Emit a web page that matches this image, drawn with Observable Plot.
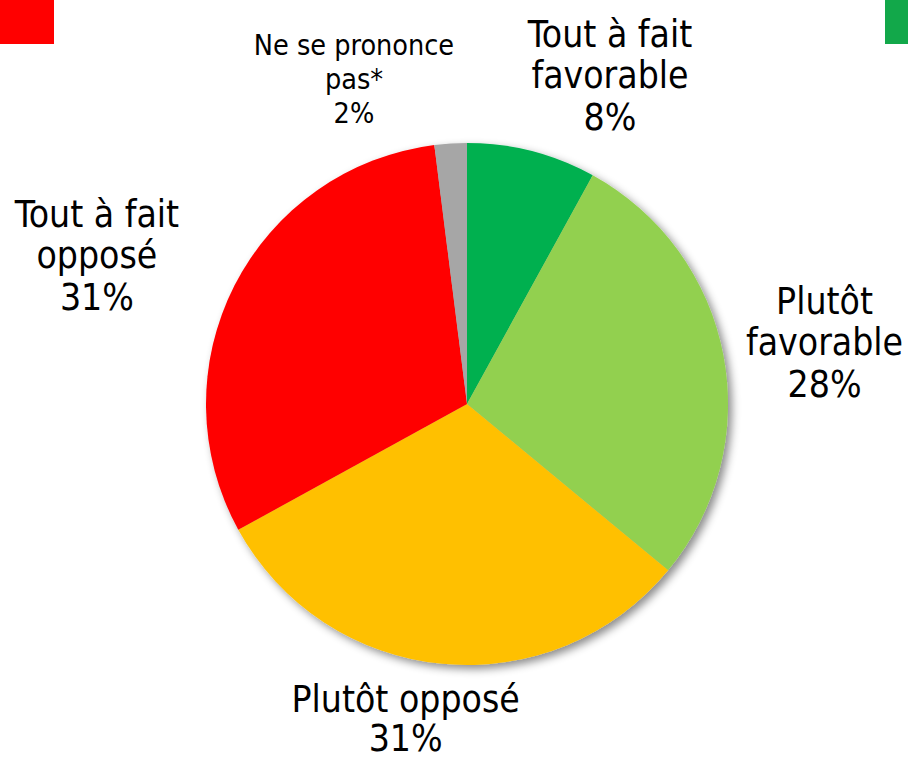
<!DOCTYPE html>
<html><head><meta charset="utf-8">
<script src="https://cdn.jsdelivr.net/npm/d3@7"></script>
<script src="https://cdn.jsdelivr.net/npm/@observablehq/plot@0.6"></script>
<style>
html,body{margin:0;padding:0;background:#fff;}
#wrap{position:relative;width:908px;height:760px;overflow:hidden;}
#wrap svg{position:absolute;left:0;top:0;}
.sq{position:absolute;top:0;height:44px;z-index:2;}
</style></head><body>
<div id="wrap">
  <div class="sq" style="left:0;width:54px;background:#FF0000"></div>
  <div class="sq" style="left:885px;width:23px;background:#12A84A"></div>
</div>
<script>
// ---- data ----
const categories = ["Tout à fait favorable", "Plutôt favorable", "Plutôt opposé", "Tout à fait opposé", "Ne se prononce pas*"];
const values = [8, 28, 31, 31, 2];
const labelLines = ["Tout à fait\nfavorable", "Plutôt\nfavorable", "Plutôt opposé", "Tout à fait\nopposé", "Ne se prononce\npas*"];

// ---- styles / layout ----
const colors = ["#00B050", "#92D050", "#FFC000", "#FF0000", "#A6A6A6"];
// label anchors, in units of pie radius relative to the pie centre
const labelAnchor = [[0.546, 1.262], [1.368, 0.240], [-0.237, -1.205], [-1.420, 0.572], [-0.435, 1.250]];
const bigLabel = [true, true, true, true, false];
const labelLineHeight = [1.12, 1.12, 1.06, 1.12, 1.2];

const W = 908, H = 760, CX = 467, CY = 404, R = 261;

const rows = categories.map((c, i) => ({
  category: c,
  value: values[i],
  color: colors[i],
  label: labelLines[i] + "\n" + values[i] + "%",
  x: labelAnchor[i][0],
  y: labelAnchor[i][1],
  big: bigLabel[i],
  lh: labelLineHeight[i]
}));

const pieMark = (index, scales) => {
  const cx = scales.x(0), cy = scales.y(0), r = scales.x(1) - scales.x(0);
  const arcs = d3.pie().sort(null).value(d => d.value)(rows);
  const arc = d3.arc().innerRadius(0).outerRadius(r);
  const g = d3.create("svg:g");
  const f = g.append("defs").append("filter").attr("id", "pieShadow")
    .attr("x", "-20%").attr("y", "-20%").attr("width", "140%").attr("height", "140%");
  f.append("feDropShadow").attr("dx", 4).attr("dy", 4).attr("stdDeviation", 4)
    .attr("flood-color", "#000").attr("flood-opacity", 0.45);
  g.append("g").attr("transform", `translate(${cx},${cy})`).attr("filter", "url(#pieShadow)")
    .selectAll("path").data(arcs).join("path")
    .attr("d", arc).attr("fill", d => d.data.color);
  return g.node();
};

const font = "'DejaVu Sans Condensed', 'DejaVu Sans', sans-serif";

const chart = Plot.plot({
  width: W, height: H, margin: 0,
  x: {domain: [-CX / R, (W - CX) / R], axis: null},
  y: {domain: [-(H - CY) / R, CY / R], axis: null},
  style: {background: "transparent", fontFamily: font},
  marks: [
    pieMark,
    ...rows.map(d => Plot.text([d], {x: "x", y: "y", text: "label", fontSize: d.big ? 37 : 28.5, lineHeight: d.lh, fill: "#000", fontFamily: font}))
  ]
});
document.getElementById("wrap").appendChild(chart);
</script>
</body></html>
